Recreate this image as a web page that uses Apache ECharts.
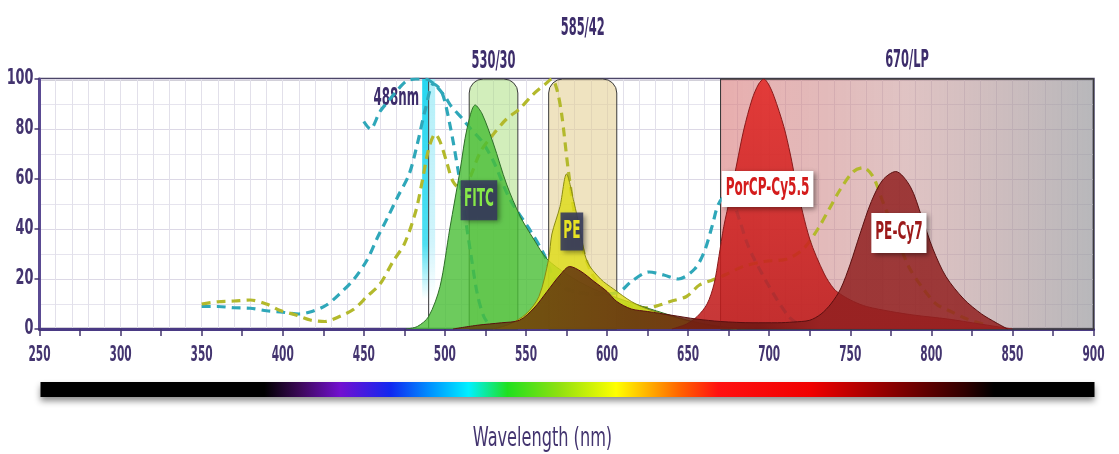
<!DOCTYPE html>
<html><head><meta charset="utf-8">
<script src="https://cdn.jsdelivr.net/npm/echarts@6/dist/echarts.min.js"></script>
<style>html,body{margin:0;padding:0;background:#fff}#c{width:1119px;height:454px}</style>
</head><body><div id="c"></div>
<script>
// ---------- data ----------
const X_LABELS = [250,300,350,400,450,500,550,600,650,700,750,800,850,900];
const Y_LABELS = [0,20,40,60,80,100];
const BANDS = [[515,545,'530/30'],[564,606,'585/42'],[670,900,'670/LP']];
const LASERS = [[488,'488nm']];
const DYES = ['FITC','PE','PorCP-Cy5.5','PE-Cy7'];

const FITC_EXC = [[350,9],[360,9],[370,8.5],[380,8.3],[390,7.3],[400,6.7],[410,6],[418,7],[427,9.6],[435,14],[444,20],[452,27.6],[458,36],[465,45],[471,53],[478,62],[483,74],[488,88],[493,98],[498,95],[503,82],[508,64],[512,47],[516,30],[520,14],[524,5],[528,1]];
const PERCP_EXC = [[450,83],[454,80],[460,87],[465,91],[470,95],[476,99],[482,100],[488,100],[494,97.6],[500,93],[504,89],[511,84],[516,80],[523,75],[530,67],[540,52],[553,39],[561,30],[566,22],[572,17],[580,15],[590,14],[600,14],[608,15],[615,19],[626,22.8],[635,21.6],[644,20],[654,24],[660,31],[665,41.6],[668.5,49.6],[673,53],[678,50],[682,43],[686,35],[690,29],[700,17],[712,5],[720,1]];
const PECY7_EXC = [[350,10],[360,10.9],[370,11.2],[380,11.6],[390,10],[398,7.5],[408,5.6],[417,3.6],[426,3],[435,5],[444,8],[452,13],[460,18],[468,27],[475,34],[482,47],[486,59],[490,72],[494,78],[497,75],[501,67],[505,59],[510,56],[515,60],[522,71],[530,78],[538,84],[546,88],[554,93.6],[562,98],[566,100],[569,96],[572,86],[576,64],[580,46],[585,32],[590,23],[597,16],[605,12],[615,9],[625,8.5],[632,9.5],[639,11],[649,13],[657,17.6],[665,19.6],[674,22],[684,25],[697,27],[711,28],[721,32],[730,40],[737,48],[744,56],[752,63],[758,64.5],[764,61],[770,51],[778,38],[786,25],[794,17],[803,10],[812,7],[822,4],[832,2]];

const FITC_EM = [[476,0],[483,1],[490,5],[497,17],[503,40],[509.5,64],[513.6,80],[518.7,89.6],[523,86],[530,74],[538,58],[546.5,45],[554.7,36],[563,28],[575,22],[590,16.5],[606,12.5],[622,9],[639,5.5],[649,3.6],[657,2.4],[670,1],[685,0]];
const PE_EM = [[530,0],[540,2],[550,6],[558,13],[564,28],[566,38],[571,49],[575,62],[579.5,51],[583.6,39],[587.7,27],[596,20],[604,16],[615,11],[625,8],[640,5],[655,2.5],[670,0.5],[680,0]];
const PECY7_EM = [[505,0],[520,1.5],[535,2.5],[546,3.5],[555,8.4],[563,15],[571,21.6],[577,25],[584,23],[592,19],[600,15],[606,11],[615,8],[625,7],[640,5.5],[655,4],[670,3],[690,2.5],[705,2.5],[715,2.8],[725,3.5],[732,6],[738,10],[744,16],[750,26],[756,38],[763,51],[770,59.6],[778,63],[787,57],[794,45],[801,32],[809,21],[820,12],[831,6],[840,2.5],[847,0]];
const PERCP_EM = [[640,0],[649,2],[655.6,5],[661.7,10],[666,18],[669,29],[672,41],[676,53],[680,66],[684.3,79.6],[689.5,92],[693.5,98],[696.7,100],[699.5,98],[703,93],[709,81],[713,70],[717,57],[725,36],[734,22],[740,16],[745,13.5],[752,11],[760,9],[775,7],[790,5.5],[810,4],[830,2],[845,0.5],[850,0]];

// ---------- styles ----------
const FONT = "'DejaVu Sans Condensed','Liberation Sans Narrow','DejaVu Sans',sans-serif";
const INK = '#3d2d6b';
const AXIS_INK = '#43346f';
const NARROW = 0.56;
const G = echarts.graphic;

const BAND_LOOK = {
  '530/30': {fill:'rgba(165,222,120,0.5)', r:[14,14,0,0], lift:17},
  '585/42': {fill:'rgba(226,204,140,0.55)', r:[14,14,0,0], lift:50},
  '670/LP': {fill:new G.LinearGradient(0,0,1,0,[{offset:0,color:'rgba(215,115,115,0.58)'},{offset:0.5,color:'rgba(192,136,136,0.5)'},{offset:1,color:'rgba(145,145,150,0.65)'}]), r:0, lift:18}
};
const TAG_LOOK = {
  'FITC':        {at:[521,51.5], bg:'rgba(55,60,92,0.9)', fg:'#86e848', pad:[8,6]},
  'PE':          {at:[578.3,39], bg:'rgba(55,60,92,0.9)', fg:'#e8e224', pad:[7,5]},
  'PorCP-Cy5.5': {at:[699,56],   bg:'#ffffff', fg:'#d41c1c', pad:[6,7]},
  'PE-Cy7':      {at:[780,38.4], bg:'#ffffff', fg:'#9c1a1a', pad:[8,7]}
};

function narrowText(x, y, text, sx, s){
  return {type:'text', x, y, scaleX:sx, silent:true,
    style:Object.assign({text, x:0, y:0, fontFamily:FONT}, s)};
}

function renderBand(params, api){
  const b = BANDS[params.dataIndex];
  const look = BAND_LOOK[b[2]];
  const p0 = api.coord([api.value(0), 100]);
  const p1 = api.coord([api.value(1), 0]);
  return {type:'group', children:[
    {type:'rect', shape:{x:p0[0], y:p0[1], width:p1[0]-p0[0], height:p1[1]-p0[1], r:look.r},
     style:{fill:look.fill, stroke:'#3a3a3a', lineWidth:1}},
    narrowText((p0[0]+p1[0])/2, p0[1]-look.lift, b[2], 0.53,
      {align:'center', verticalAlign:'middle', fill:INK, fontSize:24, fontWeight:'bold'})
  ]};
}

function renderLaser(params, api){
  const nm = api.value(0);
  const t = api.coord([nm-2, 100]);
  const m = api.coord([nm+2, 12]);
  const r = api.coord([nm+6, 12]);
  const base = api.coord([nm+2, 0]);
  return {type:'group', children:[
    {type:'rect', shape:{x:t[0], y:t[1], width:m[0]-t[0], height:m[1]-t[1]},
      style:{fill:new G.LinearGradient(0,0,0,1,[{offset:0,color:'rgba(40,215,240,1)'},{offset:0.75,color:'rgba(60,220,240,0.9)'},{offset:1,color:'rgba(60,220,240,0)'}])}},
    {type:'rect', shape:{x:m[0], y:t[1], width:r[0]-m[0], height:m[1]-t[1]},
      style:{fill:new G.LinearGradient(0,0,0,1,[{offset:0,color:'rgba(170,238,248,0.9)'},{offset:0.75,color:'rgba(190,240,250,0.7)'},{offset:1,color:'rgba(190,240,250,0)'}])}},
    {type:'line', shape:{x1:m[0], y1:t[1], x2:m[0], y2:base[1]}, style:{stroke:'#3a3a3a', lineWidth:1}},
    narrowText(t[0]-3, api.coord([nm,92])[1], LASERS[params.dataIndex][1], 0.55,
      {align:'right', verticalAlign:'middle', fill:INK, fontSize:24, fontWeight:'bold'})
  ]};
}

function renderTag(params, api){
  const name = DYES[params.dataIndex];
  const look = TAG_LOOK[name];
  const p = api.coord(look.at);
  return narrowText(p[0], p[1], name, NARROW, {align:'center', verticalAlign:'middle',
      fill:look.fg, fontSize:24, fontWeight:'bold',
      backgroundColor:look.bg, padding:look.pad,
      shadowBlur:5, shadowColor:'rgba(0,0,0,0.45)', shadowOffsetX:3, shadowOffsetY:2});
}

// tick labels drawn through the axis scale, with the tall narrow face of the original
function renderXLabel(params, api){
  const p = api.coord([api.value(0), 0]);
  return narrowText(p[0], p[1]+27, String(X_LABELS[params.dataIndex]), 0.56,
    {align:'center', verticalAlign:'middle', fill:AXIS_INK, fontSize:21, fontWeight:'bold'});
}
function renderYLabel(params, api){
  const p = api.coord([250, api.value(1)]);
  return narrowText(p[0]-6, p[1], String(Y_LABELS[params.dataIndex]), 0.68,
    {align:'right', verticalAlign:'middle', fill:AXIS_INK, fontSize:21, fontWeight:'bold'});
}

function dashed(name, data, color){
  return {name, type:'line', data, smooth:0.3, showSymbol:false, z:2,
    lineStyle:{color, width:3.2, type:[9,6]}};
}
function area(name, data, fill, line, z){
  return {name, type:'line', data, smooth:0.3, showSymbol:false, z,
    lineStyle:{color:line, width:1}, areaStyle:{color:fill, opacity:1}};
}

const option = {
  animation:false,
  grid:{left:39.5, right:25.5, top:79, bottom:125, show:true, borderColor:'#4b4568', borderWidth:2.5},
  xAxis:[
    {type:'value', min:250, max:900, interval:25,
     axisLine:{show:true, lineStyle:{color:'#4a3a84', width:3}},
     axisTick:{show:true, length:7, lineStyle:{color:AXIS_INK, width:1.5}},
     axisLabel:{show:false},
     splitLine:{show:false}},
    {type:'value', min:250, max:900, interval:10, position:'bottom',
     axisLine:{show:false}, axisTick:{show:false}, axisLabel:{show:false},
     splitLine:{show:true, lineStyle:{color:'#e2e0ea', width:1}}}
  ],
  yAxis:{type:'value', min:0, max:100, interval:20,
    axisLine:{show:true, lineStyle:{color:'#5a4a92', width:3}},
    axisTick:{show:true, length:5, lineStyle:{color:AXIS_INK, width:1.5}},
    axisLabel:{show:false},
    splitLine:{show:true, lineStyle:{color:'#dcd8e6', width:1.2}},
    minorTick:{show:false, splitNumber:2},
    minorSplitLine:{show:true, lineStyle:{color:'#e6e4ee', width:1}}},
  series:[
    {name:'bands', type:'custom', renderItem:renderBand, z:1, clip:false,
     data:BANDS.map(b => [b[0], b[1], 0]), encode:{x:[0,1], y:2}, silent:true},
    {name:'laser', type:'custom', renderItem:renderLaser, z:1.5, clip:false,
     data:LASERS.map(l => [l[0], 0]), encode:{x:0, y:1}, silent:true},
    dashed('FITC exc', FITC_EXC, '#2fa7b9'),
    dashed('PerCP-Cy5.5 exc', PERCP_EXC, '#2fa7b9'),
    dashed('PE-Cy7 exc', PECY7_EXC, '#b3b92c'),
    area('FITC', FITC_EM, 'rgba(72,190,52,0.8)', '#2e6e28', 3),
    area('PE', PE_EM, 'rgba(222,220,25,0.82)', '#8a8a15', 4),
    area('PerCP-Cy5.5', PERCP_EM, new G.LinearGradient(0,0,0,1,[{offset:0,color:'rgba(226,42,40,0.88)'},{offset:1,color:'rgba(190,28,28,0.88)'}]), '#8a1a1a', 5),
    area('PE-Cy7', PECY7_EM, new G.LinearGradient(0,0,1,0,[{offset:0,color:'rgba(100,70,12,0.85)'},{offset:0.33,color:'rgba(96,40,14,0.85)'},{offset:0.55,color:'rgba(110,22,18,0.85)'},{offset:0.66,color:'rgba(145,32,32,0.85)'},{offset:1,color:'rgba(145,32,32,0.85)'}]), '#5a1010', 6),
    {name:'tags', type:'custom', renderItem:renderTag, z:10, clip:false,
     data:DYES.map(d => TAG_LOOK[d].at), encode:{x:0, y:1}, silent:true},
    {name:'x labels', type:'custom', renderItem:renderXLabel, z:10, clip:false,
     data:X_LABELS.map(v => [v, 0]), encode:{x:0, y:1}, silent:true},
    {name:'y labels', type:'custom', renderItem:renderYLabel, z:10, clip:false,
     data:Y_LABELS.map(v => [250, v]), encode:{x:0, y:1}, silent:true}
  ]
};

const chart = echarts.init(document.getElementById('c'));
chart.setOption(option);

// spectrum strip and axis title, aligned with the axis scale
const SPECTRUM = [[250,'#000000'],[388,'#000000'],[410,'#3c0858'],[435,'#7210d0'],[466,'#1028f0'],[490,'#0090ff'],[514,'#00f0ff'],[538,'#20e020'],[570,'#90e010'],[605,'#ffff00'],[625,'#ffb000'],[645,'#ff6000'],[668,'#ff1010'],[725,'#f00000'],[780,'#800000'],[820,'#300000'],[838,'#000000'],[900,'#000000']];
const xl = chart.convertToPixel({xAxisIndex:0}, 250);
const xr = chart.convertToPixel({xAxisIndex:0}, 900);
chart.setOption({graphic:[
  {type:'rect', shape:{x:xl+1, y:382, width:xr-xl, height:15},
   style:{fill:new G.LinearGradient(0,0,1,0,SPECTRUM.map(s => ({offset:(s[0]-250)/650, color:s[1]}))),
    shadowBlur:6, shadowColor:'rgba(0,0,0,0.45)', shadowOffsetY:4}, silent:true},
  {type:'text', x:(xl+xr)/2-24, y:439, scaleX:0.69,
   style:{text:'Wavelength (nm)', x:0, y:0, align:'center', verticalAlign:'middle',
    fill:AXIS_INK, fontSize:26, fontFamily:FONT}, silent:true}
]});
</script></body></html>
